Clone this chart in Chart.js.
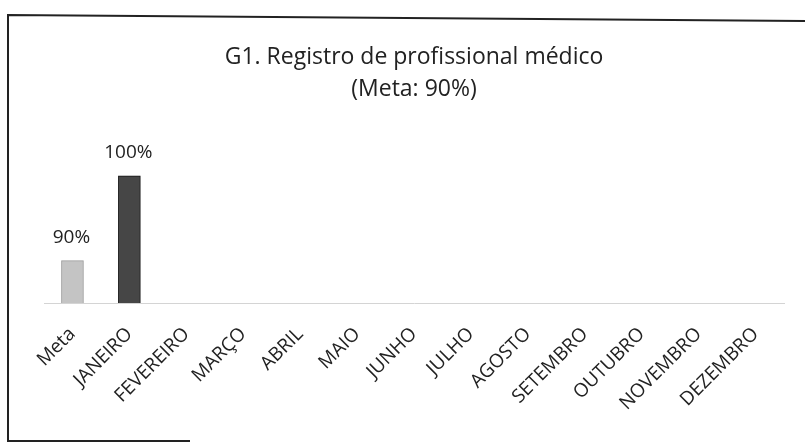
<!doctype html>
<html>

<head>
	<meta charset="utf-8">
	<title>G1. Registro de profissional médico</title>
	<script src="https://cdn.jsdelivr.net/npm/chart.js@4"></script>
	<style>
		body {
			margin: 0;
			background: #fff;
		}
	</style>
</head>

<body>
	<canvas id="chart-area" width="805" height="444"></canvas>
	<script>
		const categories = ['Meta', 'JANEIRO', 'FEVEREIRO', 'MARÇO', 'ABRIL', 'MAIO', 'JUNHO',
			'JULHO', 'AGOSTO', 'SETEMBRO', 'OUTUBRO', 'NOVEMBRO', 'DEZEMBRO'];
		const values = [90, 100, null, null, null, null, null, null, null, null, null, null, null];
		const titleLines = ['G1. Registro de profissional médico', '(Meta: 90%)'];

		const fontFamily = "'Open Sans', 'Noto Sans', sans-serif";

		// scanned frame around the chart
		const framePlugin = {
			id: 'frame',
			beforeDraw(chart) {
				const ctx = chart.ctx;
				ctx.save();
				ctx.fillStyle = '#fff';
				ctx.fillRect(0, 0, chart.width, chart.height);
				ctx.strokeStyle = '#222';
				ctx.lineWidth = 2;
				ctx.beginPath();
				ctx.moveTo(805, 21);
				ctx.lineTo(8, 15);
				ctx.lineTo(8, 441);
				ctx.lineTo(190, 441);
				ctx.stroke();
				ctx.restore();
			}
		};

		// value labels above bars
		const valueLabels = {
			id: 'valueLabels',
			afterDatasetsDraw(chart) {
				const ctx = chart.ctx;
				ctx.save();
				ctx.font = '19px ' + fontFamily;
				ctx.fillStyle = '#222';
				ctx.textAlign = 'center';
				ctx.textBaseline = 'alphabetic';
				chart.getDatasetMeta(0).data.forEach((bar, i) => {
					if (values[i] === null) return;
					ctx.fillText(values[i] + '%', bar.x - 1, bar.y - 18);
				});
				ctx.restore();
			}
		};

		const config = {
			type: 'bar',
			data: {
				labels: categories,
				datasets: [{
					data: values,
					backgroundColor: ['#c4c4c4', '#464646'],
					borderColor: ['#9a9a9a', '#111'],
					borderWidth: 1,
					barThickness: 22
				}]
			},
			options: {
				responsive: false,
				animation: false,
				layout: {
					padding: { left: 44, right: 21, top: 0, bottom: 11 }
				},
				plugins: {
					legend: { display: false },
					tooltip: { enabled: false },
					title: {
						display: true,
						text: titleLines,
						color: '#222',
						font: { family: fontFamily, size: 23, weight: 'normal', lineHeight: 1.4 },
						padding: { top: 41, bottom: 28 }
					}
				},
				scales: {
					x: {
						grid: { display: false },
						border: { color: '#d4d4d4', dash: [3, 4] },
						ticks: {
							color: '#222',
							minRotation: 45,
							maxRotation: 45,
							padding: 12,
							font: { family: fontFamily, size: 19 }
						},
						afterFit(scale) {
							scale.height = 130;
						}
					},
					y: {
						display: false,
						min: 85,
						max: 105
					}
				}
			},
			plugins: [framePlugin, valueLabels]
		};

		window.onload = function() {
			const ctx = document.getElementById('chart-area');
			window.myBar = new Chart(ctx, config);
		};
	</script>
</body>

</html>
